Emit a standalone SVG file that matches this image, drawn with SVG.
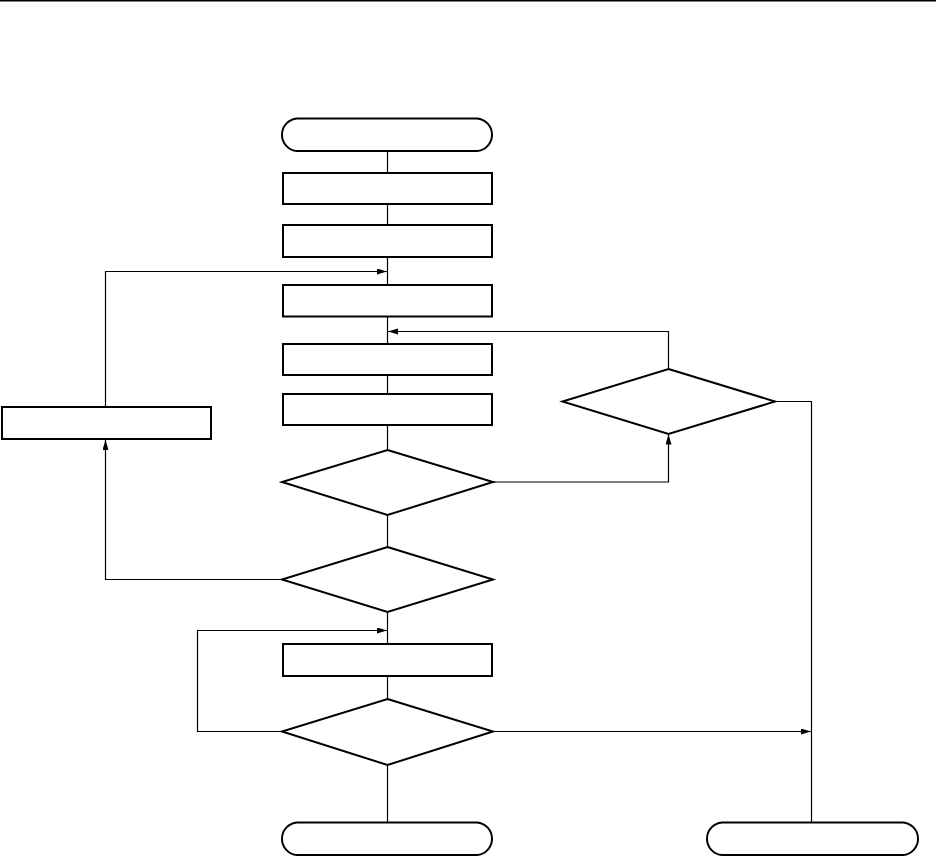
<svg xmlns="http://www.w3.org/2000/svg" width="936" height="857" viewBox="0 0 936 857">
<style>
.shape{fill:#fff;stroke:#000;stroke-width:2}
.conn{fill:none;stroke:#000;stroke-width:1.2}
</style>
<defs>
<marker id="arr" markerUnits="userSpaceOnUse" markerWidth="11" markerHeight="7" refX="10" refY="3" orient="auto">
<path d="M0,0 L10,3 L0,6 Z" fill="#000"/>
</marker>
</defs>
<rect width="936" height="857" fill="#fff"/>
<rect x="0" y="0" width="936" height="1.5" fill="#000"/>
<g id="connectors">
<line class="conn" x1="387.5" y1="151" x2="387.5" y2="173"/>
<line class="conn" x1="387.5" y1="204" x2="387.5" y2="225"/>
<line class="conn" x1="387.5" y1="257" x2="387.5" y2="285"/>
<line class="conn" x1="387.5" y1="316" x2="387.5" y2="344"/>
<line class="conn" x1="387.5" y1="375" x2="387.5" y2="394"/>
<line class="conn" x1="387.5" y1="425" x2="387.5" y2="450"/>
<line class="conn" x1="387.5" y1="515" x2="387.5" y2="547"/>
<line class="conn" x1="387.5" y1="612" x2="387.5" y2="644"/>
<line class="conn" x1="387.5" y1="676" x2="387.5" y2="699"/>
<line class="conn" x1="387.5" y1="765" x2="387.5" y2="822"/>
<polyline class="conn" points="105.5,407 105.5,271.5 387,271.5" marker-end="url(#arr)"/>
<polyline class="conn" points="282,579.5 105.5,579.5 105.5,440" marker-end="url(#arr)"/>
<polyline class="conn" points="493,482 668.5,482 668.5,434.5" marker-end="url(#arr)"/>
<polyline class="conn" points="668.5,369 668.5,331.5 388,331.5" marker-end="url(#arr)"/>
<polyline class="conn" points="775,401.5 811.5,401.5 811.5,822"/>
<polyline class="conn" points="493,731.5 811,731.5" marker-end="url(#arr)"/>
<polyline class="conn" points="282,731.5 197.5,731.5 197.5,630.5 387,630.5" marker-end="url(#arr)"/>
</g>
<g id="start"><path class="shape" d="M297,118.5 H477 A16.3,16.3 0 0 1 477,151 H297 A16.3,16.3 0 0 1 297,118.5 Z"/></g>
<g id="step1"><rect class="shape" x="283" y="173" width="209" height="31"/></g>
<g id="step2"><rect class="shape" x="283" y="225" width="209" height="32"/></g>
<g id="step3"><rect class="shape" x="283" y="285" width="209" height="31.5"/></g>
<g id="step4"><rect class="shape" x="283" y="344" width="209" height="31"/></g>
<g id="step5"><rect class="shape" x="283" y="394" width="209" height="31"/></g>
<g id="side"><rect class="shape" x="2" y="407" width="209" height="32"/></g>
<g id="dec1"><polygon class="shape" points="387.5,450 493,482 387.5,515 282,482"/></g>
<g id="dec2"><polygon class="shape" points="387.5,547 493,579.5 387.5,612 282,579.5"/></g>
<g id="dec4"><polygon class="shape" points="668.5,369 775,401.5 668.5,434 562.5,401.5"/></g>
<g id="step6"><rect class="shape" x="283" y="644" width="209" height="32"/></g>
<g id="dec3"><polygon class="shape" points="387.5,699 493,731.5 387.5,765 282,731.5"/></g>
<g id="end1"><path class="shape" d="M297,822.5 H477 A16.3,16.3 0 0 1 477,855 H297 A16.3,16.3 0 0 1 297,822.5 Z"/></g>
<g id="end2"><path class="shape" d="M722,822.5 H903 A16.3,16.3 0 0 1 903,855 H722 A16.3,16.3 0 0 1 722,822.5 Z"/></g>
</svg>
